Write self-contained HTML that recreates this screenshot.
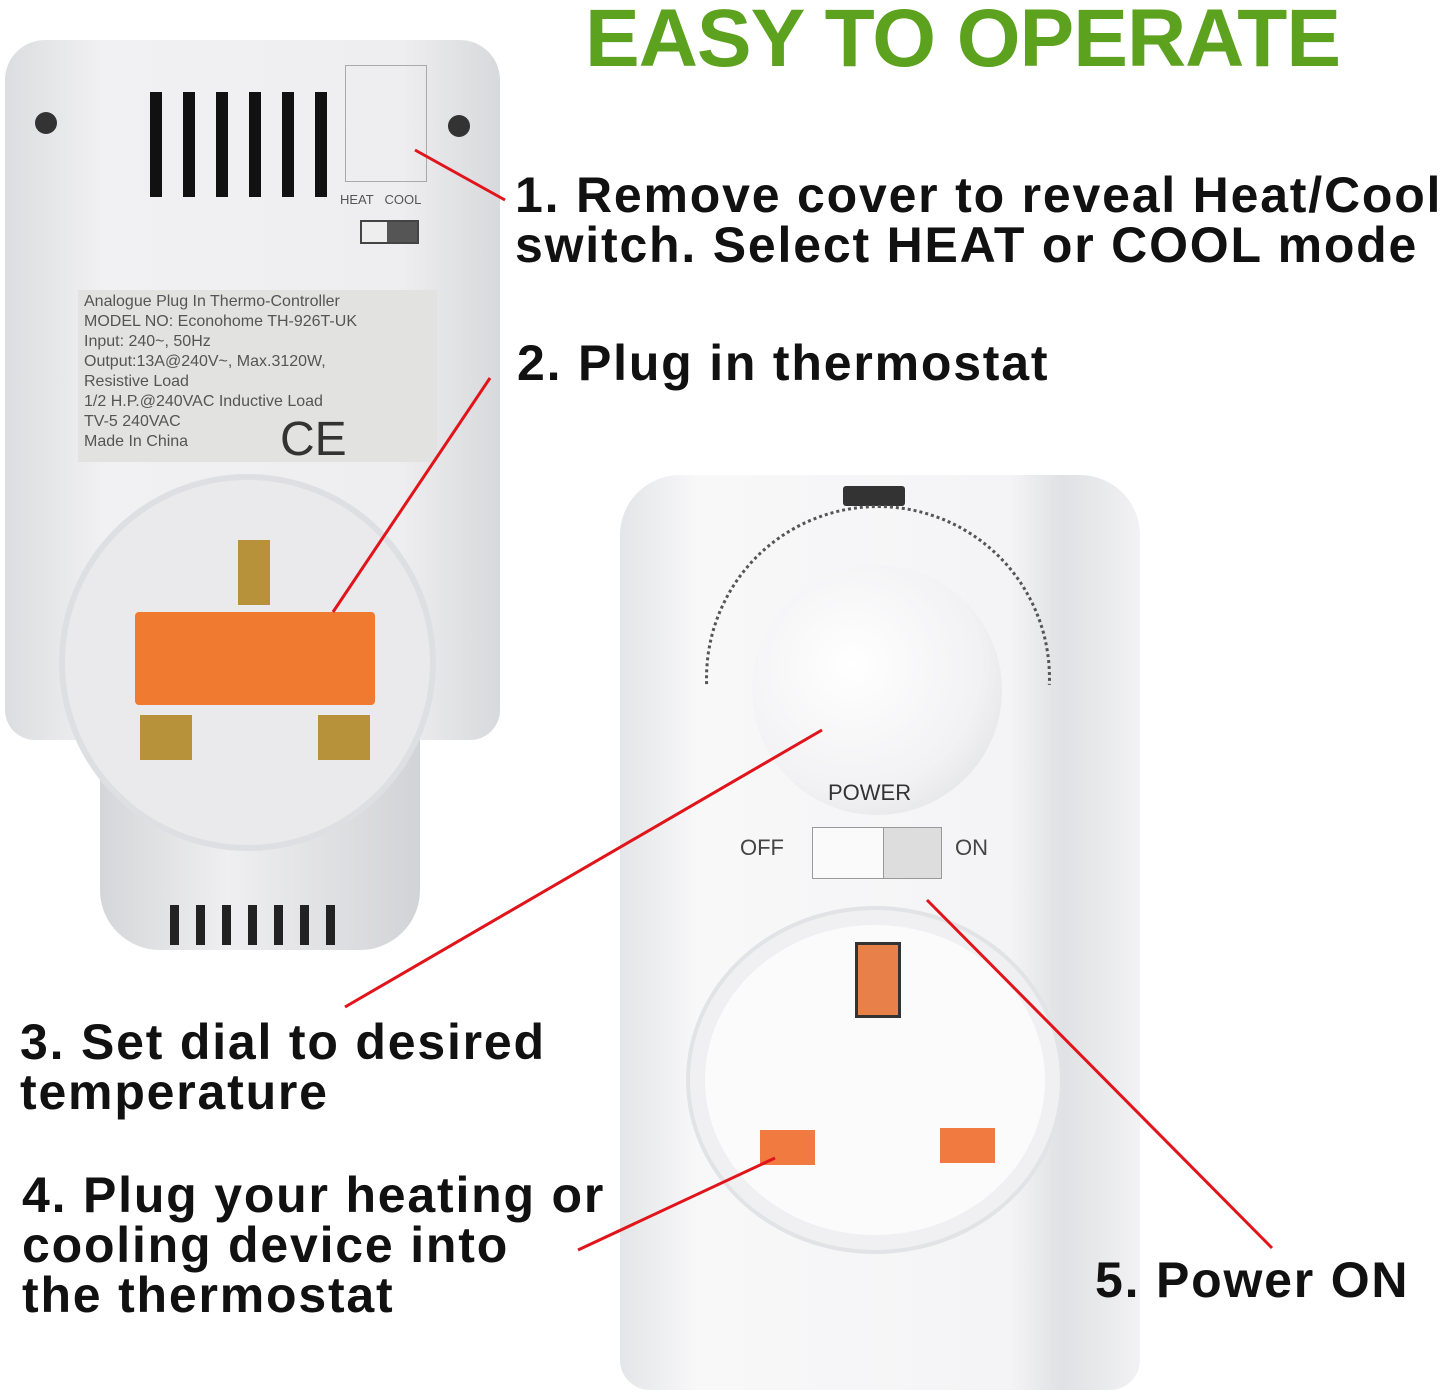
<!DOCTYPE html>
<html><head><meta charset="utf-8"><style>
body{margin:0;width:1446px;height:1395px;background:#fff;position:relative;overflow:hidden;font-family:"Liberation Sans",sans-serif}
.a{position:absolute}
.t{position:absolute;font-weight:bold;font-size:50px;color:#111;line-height:50px;white-space:nowrap;letter-spacing:1.8px}
.s{position:absolute;font-size:16px;color:#555;line-height:20px}
</style></head><body>
<div class="a" style="left:585px;top:-8px;font-size:82px;font-weight:bold;color:#5da21f;white-space:nowrap;letter-spacing:-1px">EASY TO OPERATE</div>

<!-- left device -->
<div class="a" style="left:5px;top:40px;width:495px;height:700px;background:linear-gradient(90deg,#dcdde0,#f1f1f3 20%,#eeeef0 80%,#d8d9dc);border-radius:40px 40px 30px 30px"></div>
<div class="a" style="left:100px;top:740px;width:320px;height:210px;background:linear-gradient(90deg,#d5d6d9,#efeff1 40%,#d2d3d6);border-radius:0 0 60px 60px"></div>
<div class="a" style="left:345px;top:65px;width:80px;height:115px;border:1px solid #aaa"></div>
<div class="s" style="left:340px;top:190px;font-size:13px">HEAT&nbsp;&nbsp; COOL</div>
<div class="a" style="left:360px;top:220px;width:55px;height:20px;background:#555;border:2px solid #444"><div style="width:25px;height:20px;background:#eee"></div></div>
<div class="a" style="left:35px;top:112px;width:22px;height:22px;border-radius:50%;background:#333"></div>
<div class="a" style="left:448px;top:115px;width:22px;height:22px;border-radius:50%;background:#333"></div>
<div class="a" style="left:150px;top:92px;width:180px;height:105px;background:repeating-linear-gradient(90deg,#111 0 12px,transparent 12px 33px)"></div>
<div class="a" style="left:78px;top:290px;width:359px;height:172px;background:#e2e2e0"></div>
<div class="s" style="left:84px;top:292px">Analogue Plug In Thermo-Controller<br>MODEL NO: Econohome TH-926T-UK<br>Input: 240~, 50Hz<br>Output:13A@240V~, Max.3120W,<br>Resistive Load<br>1/2 H.P.@240VAC Inductive Load<br>TV-5 240VAC<br>Made In China</div>
<div class="a" style="left:280px;top:412px;font-size:48px;color:#333">CE</div>
<div class="a" style="left:65px;top:480px;width:365px;height:365px;border-radius:50%;background:#eaeaec;box-shadow:0 0 0 6px #dedfe2"></div>
<div class="a" style="left:238px;top:540px;width:32px;height:65px;background:#b8923a"></div>
<div class="a" style="left:135px;top:612px;width:240px;height:93px;background:#f07a30;border-radius:4px"></div>
<div class="a" style="left:140px;top:715px;width:52px;height:45px;background:#b8923a"></div>
<div class="a" style="left:318px;top:715px;width:52px;height:45px;background:#b8923a"></div>
<div class="a" style="left:170px;top:905px;width:175px;height:40px;background:repeating-linear-gradient(90deg,#222 0 9px,transparent 9px 26px)"></div>

<!-- right device -->
<div class="a" style="left:620px;top:475px;width:520px;height:915px;background:linear-gradient(90deg,#e4e5e8,#f8f8f9 15%,#f4f4f6 75%,#e0e1e4 85%,#f2f2f4);border-radius:60px 60px 30px 30px"></div>
<div class="a" style="left:843px;top:486px;width:62px;height:20px;background:#333;border-radius:3px"></div>
<div class="a" style="left:705px;top:505px;width:340px;height:340px;border-radius:50%;border:3px dotted #555;clip-path:inset(0 0 48% 0)"></div>
<div class="a" style="left:752px;top:565px;width:250px;height:250px;border-radius:50%;background:radial-gradient(circle at 40% 40%,#fff,#f2f2f4 60%,#d8d9dc)"></div>
<div class="s" style="left:828px;top:783px;font-size:22px;color:#333">POWER</div>
<div class="s" style="left:740px;top:838px;font-size:22px;color:#444">OFF</div>
<div class="s" style="left:955px;top:838px;font-size:22px;color:#444">ON</div>
<div class="a" style="left:812px;top:827px;width:128px;height:50px;background:#ddd;border:1px solid #999"><div style="width:70px;height:50px;background:#fafafa;border-right:1px solid #999"></div></div>
<div class="a" style="left:690px;top:910px;width:370px;height:340px;border-radius:50%;background:#f0f0f2;box-shadow:0 0 0 4px #e2e3e6"></div>
<div class="a" style="left:705px;top:925px;width:340px;height:310px;border-radius:50%;background:#fbfbfc"></div>
<div class="a" style="left:855px;top:942px;width:40px;height:70px;background:#e8804a;border:3px solid #333"></div>
<div class="a" style="left:760px;top:1130px;width:55px;height:35px;background:#f07a40"></div>
<div class="a" style="left:940px;top:1128px;width:55px;height:35px;background:#f07a40"></div>

<svg class="a" style="left:0;top:0" width="1446" height="1395">
<g stroke="#e0141a" stroke-width="3">
<line x1="415" y1="150" x2="505" y2="200"/>
<line x1="490" y1="378" x2="333" y2="612"/>
<line x1="822" y1="730" x2="345" y2="1007"/>
<line x1="775" y1="1158" x2="578" y2="1250"/>
<line x1="927" y1="900" x2="1272" y2="1248"/>
</g></svg>

<div class="t" style="left:515px;top:170px">1. Remove cover to reveal Heat/Cool<br>switch. Select HEAT or COOL mode</div>
<div class="t" style="left:517px;top:338px">2. Plug in thermostat</div>
<div class="t" style="left:20px;top:1017px">3. Set dial to desired<br>temperature</div>
<div class="t" style="left:22px;top:1170px">4. Plug your heating or<br>cooling device into<br>the thermostat</div>
<div class="t" style="left:1095px;top:1255px">5. Power ON</div>
</body></html>
